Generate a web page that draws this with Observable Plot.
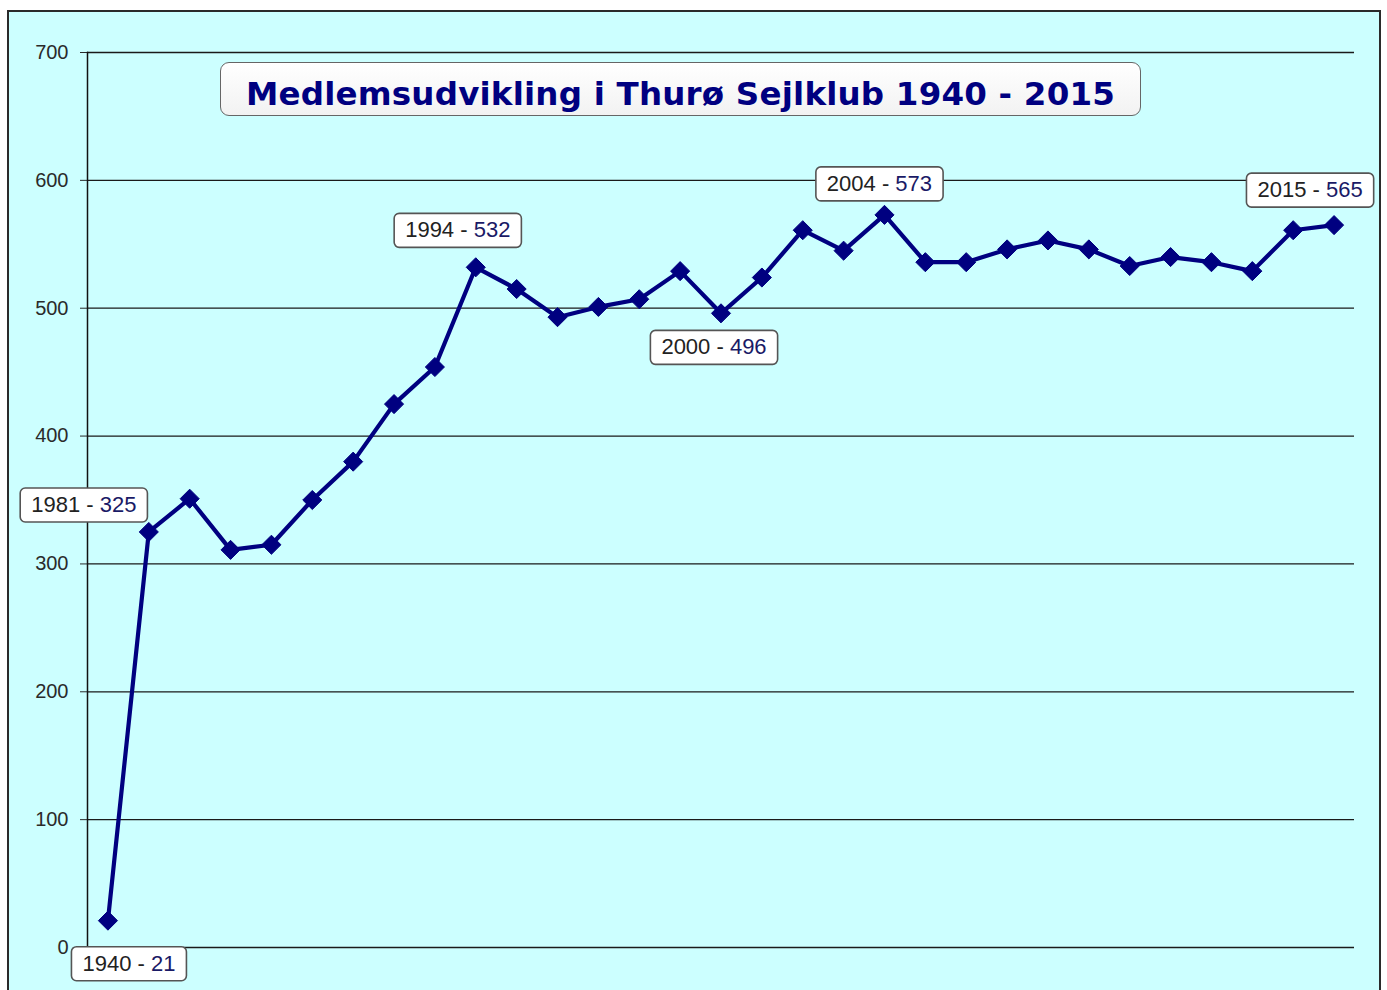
<!DOCTYPE html>
<html>
<head>
<meta charset="utf-8">
<script src="https://cdn.jsdelivr.net/npm/d3@7"></script>
<script src="https://cdn.jsdelivr.net/npm/@observablehq/plot@0.6"></script>
<style>
  html, body { margin: 0; padding: 0; background: #ffffff; }
  #frame {
    position: absolute; left: 7px; top: 10px; width: 1370px; height: 990px;
    background: #ccffff; border: 2px solid #2a2a2a; border-bottom: none;
  }
  #title {
    position: absolute; left: 211px; top: 50px; width: 921px; height: 54px;
    background: linear-gradient(#ffffff, #f2f2f2); border: 1.5px solid #666;
    border-radius: 9px; box-sizing: border-box; overflow: hidden;
    font-family: "DejaVu Sans", sans-serif; font-weight: bold; font-size: 32.5px;
    color: #000080; text-align: center; line-height: 63px; letter-spacing: 0.2px;
  }
  #chart { position: absolute; left: 0; top: 0; }
</style>
</head>
<body>
<div id="frame">
  <div id="chart"></div>
  <div id="title">Medlemsudvikling i Thurø Sejlklub 1940 - 2015</div>
</div>
<script>
// Years (x categories, not shown on an axis)
const years = [1940, 1981, 1983, 1985, 1987, 1989, 1991, 1992, 1993, 1994,
  1995, 1996, 1997, 1998, 1999, 2000, 2001, 2002, 2003, 2004,
  2005, 2006, 2007, 2008, 2009, 2010, 2011, 2012, 2013, 2014, 2015];
// Members per year
const members = [21, 325, 351, 311, 315, 350, 380, 425, 454, 532,
  515, 493, 501, 507, 529, 496, 524, 561, 545, 573,
  536, 536, 546, 553, 546, 533, 540, 536, 529, 561, 565];
// Y tick values
const yTicks = [0, 100, 200, 300, 400, 500, 600, 700];
// Annotated years
const annotatedYears = [1940, 1981, 1994, 2000, 2004, 2015];

const data = years.map((y, i) => ({year: y, value: members[i]}));
const callouts = data.filter(d => annotatedYears.includes(d.year));
// label offsets (layout), in the same order as annotatedYears
const offsets = [[21, 43], [-65, -27], [-18, -37], [-7, 34], [-5, -31], [-24, -35]];

const plot = Plot.plot({
  width: 1370,
  height: 978,
  marginLeft: 78,
  marginRight: 25,
  marginTop: 40,
  marginBottom: 43,
  style: {background: "transparent", fontFamily: "'Liberation Sans', Arial, sans-serif", overflow: "visible"},
  x: {type: "point", domain: years, padding: 0.5, round: false, axis: null},
  y: {domain: [0, 700], axis: null},
  marks: [
    Plot.ruleY(yTicks, {stroke: "#1a1a1a", strokeWidth: 1.3}),
    Plot.axisY({ticks: yTicks, tickSize: 7, tickPadding: 12, fontSize: 20, color: "#2a2a2a", label: null, tickFormat: d => String(d)}),
    Plot.frame({anchor: "left", stroke: "#111", strokeWidth: 1.5}),
    Plot.line(data, {x: "year", y: "value", stroke: "#000080", strokeWidth: 4.2, curve: "linear"}),
    Plot.dot(data, {x: "year", y: "value", symbol: "diamond2", r: 8.6, fill: "#000080", stroke: "#000080", strokeWidth: 1}),
    ...callouts.map((d, i) => Plot.text([d], {
      x: "year", y: "value",
      text: c => `${c.year} - ${c.value}`,
      dx: offsets[i][0], dy: offsets[i][1],
      fontSize: 22, fill: "#222", textAnchor: "middle", lineAnchor: "middle"
    }))
  ]
});

document.getElementById("chart").appendChild(plot);

// Split each callout into year part and value part, then draw a rounded box behind it
const ns = "http://www.w3.org/2000/svg";
plot.querySelectorAll('g[aria-label="text"] text').forEach(t => {
  const s = t.textContent;
  const k = s.lastIndexOf(" ");
  const a = s.slice(0, k + 1), b = s.slice(k + 1);
  t.textContent = "";
  const t1 = document.createElementNS(ns, "tspan");
  t1.textContent = a; t1.setAttribute("fill", "#222");
  const t2 = document.createElementNS(ns, "tspan");
  t2.textContent = b; t2.setAttribute("fill", "#1a1a66");
  t.appendChild(t1); t.appendChild(t2);
  const bb = t.getBBox();
  const padX = 11, padY = 5;
  const r = document.createElementNS(ns, "rect");
  r.setAttribute("x", bb.x - padX);
  r.setAttribute("y", bb.y - padY + 1);
  r.setAttribute("width", bb.width + 2 * padX);
  r.setAttribute("height", bb.height + 2 * padY - 1);
  r.setAttribute("rx", 5);
  r.setAttribute("fill", "#ffffff");
  r.setAttribute("stroke", "#555");
  r.setAttribute("stroke-width", 1.6);
  const tr = t.getAttribute("transform");
  if (tr) r.setAttribute("transform", tr);
  t.parentNode.insertBefore(r, t);
});
</script>
</body>
</html>
